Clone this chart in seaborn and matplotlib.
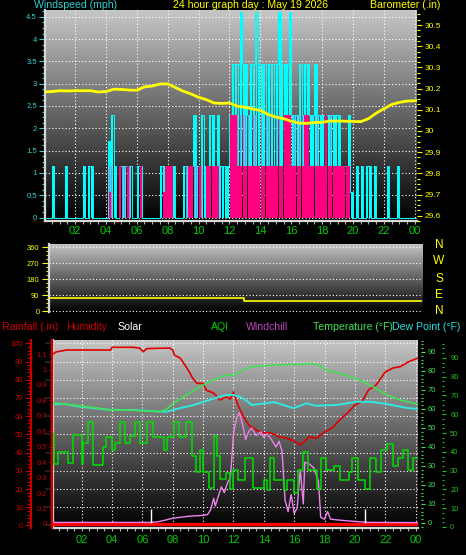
import numpy as np
import matplotlib
matplotlib.use("Agg")
import matplotlib.pyplot as plt
import matplotlib.colors as mcolors
from matplotlib.ticker import MultipleLocator, FuncFormatter
from matplotlib import font_manager as fm
import seaborn as sns

# ---------------- data ----------------
# wind, 10-minute bins over 24 h, values in knots (plotted in mph)
gust_kt = [
    0, 0, 0, 1, 0, 0,      # 00
    0, 0, 1, 0, 0, 0,      # 01
    0, 0, 0, 1, 0, 1,      # 02
    1, 0, 0, 0, 0, 0,      # 03
    0, 1.5, 2, 1, 0, 1,    # 04
    1, 1, 1, 1, 0, 0,      # 05
    1, 1, 0, 0, 0, 0,      # 06
    0, 0, 0, 1, 1, 1,      # 07
    1, 1, 1, 0, 0, 0,      # 08
    1, 1, 1, 1, 2, 1,      # 09
    1, 2, 1, 1, 2, 2,      # 10
    1, 2, 1, 1, 1, 1,      # 11
    2, 3, 3, 3, 4, 3,      # 12
    3, 2, 3, 3, 4, 3,      # 13
    3, 3, 2, 3, 3, 3,      # 14
    3, 4, 3, 3, 3, 4,      # 15
    2, 2, 2, 3, 2, 3,      # 16
    3, 2, 2, 3, 2, 2,      # 17
    2, 2, 2, 2, 2, 2,      # 18
    2, 1, 1, 1, 2, 0.5,    # 19
    0, 1, 0, 1, 0, 1,      # 20
    1, 0, 1, 0, 0, 0,      # 21
    0, 1, 0, 0, 0, 1,      # 22
    0, 0, 0, 0, 0, 0,      # 23
]
mid_kt = [
    0, 0, 0, 0, 0, 0,
    0, 0, 0, 0, 0, 0,
    0, 0, 0, 0, 0, 0,
    0, 0, 0, 0, 0, 0,
    0, 1, 1, 0, 0, 1,
    1, 1, 0, 1, 0, 0,
    0, 0, 0, 0, 0, 0,
    0, 0, 0, 0, 0, 0,
    0, 0, 0, 0, 0, 0,
    0, 1, 1, 1, 1, 1,
    1, 1, 0, 1, 1, 1,
    1, 1, 0, 0, 0, 0,
    2, 2, 2, 2, 2, 2,
    2, 2, 1, 2, 2, 1,
    2, 1, 2, 2, 1, 2,
    2, 2, 1, 2, 2, 2,
    2, 2, 1, 2, 2, 2,
    2, 2, 1, 1, 2, 1,
    1, 1, 1, 2, 1, 1,
    1, 1, 1, 1, 1, 0,
    0, 0, 0, 0, 0, 0,
    0, 0, 0, 0, 0, 0,
    0, 0, 0, 0, 0, 0,
    0, 0, 0, 0, 0, 0,
]
avg_kt = [
    0, 0, 0, 0, 0, 0,
    0, 0, 0, 0, 0, 0,
    0, 0, 0, 0, 0, 0,
    0, 0, 0, 0, 0, 0,
    0, 0.5, 0, 0, 0, 1,
    0, 0, 1, 0, 0, 0,
    0, 1, 0, 0, 0, 0,
    0, 0, 0, 0, 0.5, 1,
    1, 1, 0, 0, 0, 0,
    0, 0, 1, 1, 0, 0,
    1, 0, 0, 1, 1, 1,
    1, 1, 0, 0, 0, 0,
    2, 2, 2, 1, 1, 1,
    1, 1, 1, 1, 1, 1,
    1, 1, 1, 1, 1, 1,
    1, 1, 1, 2, 2, 2,
    1, 1, 1, 1, 1, 2,
    2, 1, 1, 1, 1, 1,
    1, 2, 1, 1, 1, 1,
    1, 1, 1, 1, 1, 0,
    0, 0, 0, 0, 0, 0,
    0, 0, 0, 0, 0, 0,
    0, 0, 0, 0, 0, 0,
    0, 0, 0, 0, 0, 0,
]
KT_TO_MPH = 1.1508

baro_hours = [0, 0.5, 1, 1.5, 2, 2.5, 3, 3.5, 4, 4.5, 5, 5.5, 6, 6.5, 7, 7.5, 8, 8.5,
              9, 9.5, 10, 10.5, 11, 11.5, 12, 12.5, 13, 13.5, 14, 14.5, 15, 15.5, 16,
              16.5, 17, 17.5, 18, 18.5, 19, 19.5, 20, 20.5, 21, 21.5, 22, 22.5, 23, 23.5, 24.1]
baro_in = [30.185, 30.186, 30.190, 30.189, 30.190, 30.190, 30.190, 30.184, 30.186, 30.197,
           30.196, 30.193, 30.192, 30.208, 30.212, 30.222, 30.222, 30.205, 30.188, 30.175,
           30.159, 30.148, 30.132, 30.130, 30.132, 30.117, 30.112, 30.104, 30.097, 30.078,
           30.066, 30.058, 30.046, 30.037, 30.036, 30.040, 30.041, 30.047, 30.047, 30.046,
           30.045, 30.044, 30.058, 30.084, 30.105, 30.125, 30.135, 30.141, 30.143]

wd_hours = [0, 12.55, 24]
wd_deg = [74, 56, 56]

hum_hours = [0.1, 0.3, 1.0, 3.9, 4.0, 5.4, 5.8, 6.06, 6.3, 7.8, 8.0, 8.1, 8.5, 8.8, 9.1, 9.3,
             9.6, 10.0, 10.2, 10.7, 11.1, 11.5, 11.8, 12.0, 12.3, 12.6, 13.0, 13.5, 14.0, 14.5,
             15.0, 15.5, 16.0, 16.4, 16.7, 17.0, 17.5, 18.0, 18.5, 19.0, 19.5, 20.0, 20.5,
             20.9, 21.4, 22.0, 22.5, 23.0, 23.5, 24.15]
hum_pct = [94.0, 95.2, 96.3, 96.3, 97.8, 97.8, 97.4, 95.4, 97.1, 97.4, 96.3, 93.6, 91.8, 88.1,
           84.2, 81.0, 78.0, 78.0, 74.4, 72.6, 68.9, 70.5, 69.4, 73.3, 66.1, 60.6, 55.2, 52.4,
           50.8, 50.8, 48.6, 48.0, 46.4, 44.2, 46.4, 48.6, 48.0, 51.3, 53.5, 57.9, 61.7, 66.1,
           68.3, 74.4, 77.1, 84.2, 86.4, 87.2, 89.7, 91.9]

temp_hours = [0.1, 1, 2, 3, 3.9, 5, 6, 7.16, 7.6, 8.05, 8.5, 8.9, 9.8, 10.65, 11.5, 12.0, 12.6,
              13.2, 14.1, 15.2, 16.4, 17.2, 17.7, 18.1, 19.2, 20.3, 21.2, 22.1, 23.0, 24.15]
temp_f = [63.3, 62.5, 61.5, 60.5, 59.5, 59.5, 59.0, 58.6, 60.0, 63.0, 65.2, 67.4, 71.7, 75.3,
          77.9, 77.5, 80.5, 82.3, 82.8, 83.3, 83.5, 83.9, 82.8, 80.5, 78.3, 75.3, 71.7, 67.4,
          64.7, 62.5]

dew_hours = [0.1, 0.9, 1.9, 3.9, 5.4, 7.2, 7.6, 8.5, 9.3, 10.2, 11.1, 11.6, 12.0, 12.4, 12.8,
             13.2, 14.1, 14.7, 15.3, 15.95, 16.8, 17.4, 18.8, 20.1, 21.1, 22.2, 23.3, 24.15]
dew_f = [62.6, 62.6, 61.2, 59.5, 59.5, 58.6, 58.6, 60.5, 61.9, 64.2, 66.5, 67.4, 67.4, 66.5,
         64.7, 62.1, 63.0, 63.6, 62.1, 60.4, 63.0, 61.7, 62.1, 63.8, 63.8, 62.5, 60.7, 60.0]

aqi_hours = [0.1, 0.2, 0.46, 1.1, 1.45, 2.0, 2.1, 2.4, 2.77, 3.4, 3.6, 3.97, 4.2, 4.5, 4.85,
             5.2, 5.5, 5.85, 6.3, 6.7, 7.4, 7.6, 8.05, 8.4, 8.9, 9.25, 9.5, 9.8, 10.0, 10.4,
             10.7, 10.9, 11.1, 11.5, 11.8, 12.0, 12.3, 12.75, 13.3, 14.0, 14.2, 14.4, 14.7,
             15.3, 15.5, 16.0, 16.25, 16.6, 16.9, 17.5, 17.8, 18.1, 18.6, 19.0, 19.6, 19.8,
             20.2, 20.7, 21.0, 21.4, 21.75, 22.1, 22.5, 22.85, 23.2, 23.5, 23.85, 24.15]
aqi_val = [47, 31, 37.5, 31.4, 46.3, 31, 42, 53, 30.5, 40, 45, 38.4, 42, 53, 42, 46, 53, 42,
           53, 45, 38.4, 45, 53, 45, 53, 35, 27, 38.4, 27, 18.3, 46, 35, 23, 26.5, 18, 28,
           22.6, 34, 18.2, 22.6, 17.4, 34, 22.6, 17.4, 22.6, 15.7, 28, 37.6, 28, 18, 34, 28,
           30, 22.6, 27, 34, 22.6, 18, 34, 27, 38.4, 41.6, 30, 34, 38.4, 28, 34, 34]

chill_hours = [0.1, 6.5, 7.0, 7.5, 8.0, 8.5, 9.0, 9.5, 10.0, 10.3, 10.5, 10.7, 10.8, 11.0,
               11.2, 11.4, 11.6, 11.8, 11.9, 12.0, 12.2, 12.4, 12.6, 12.8, 13.0, 13.2, 13.5,
               13.8, 14.0, 14.2, 14.5, 14.8, 15.0, 15.2, 15.4, 15.6, 15.8, 16.0, 16.2, 16.4,
               16.6, 16.7, 17.0, 17.3, 17.6, 17.75, 18.0, 18.2, 18.4, 19.0, 20.0, 21.0, 24.15]
chill_val = [0.3, 0.3, 0.6, 1.5, 2.5, 3.0, 3.5, 3.8, 4.0, 4.5, 7, 13, 9, 14, 19, 16, 21, 24, 35,
             47, 55, 58, 52, 44, 48, 50, 46, 48, 45, 47, 44, 40, 43, 38, 12, 6, 15, 5, 8, 28,
             10, 32, 31, 29, 22, 3, 2, 6, 2, 1.5, 0.8, 0.3, 0.2]

solar_hours = [6.55, 20.7]
solar_val = [7.4, 7.4]

rain_hours = [0.1, 24.15]
rain_in = [0.0, 0.0]

hour_ticks = [2, 4, 6, 8, 10, 12, 14, 16, 18, 20, 22, 24]
hour_labels = ["02", "04", "06", "08", "10", "12", "14", "16", "18", "20", "22", "00"]

# ---------------- style ----------------
sns.set_theme(style="dark", rc={"figure.facecolor": "black", "axes.facecolor": "black"})
avail = {f.name for f in fm.fontManager.ttflist}
NARROW = "Liberation Sans Narrow" if "Liberation Sans Narrow" in avail else "Liberation Sans"
XFS = 10 if NARROW == "Liberation Sans Narrow" else 8
plt.rcParams["font.family"] = ["Liberation Sans", "DejaVu Sans"]

W, H = 466, 555
PT = 0.72  # points per pixel at 100 dpi
fig = plt.figure(figsize=(W / 100, H / 100), dpi=100, facecolor="black")


def px_axes(l, t, r, b):
    return fig.add_axes([l / W, 1 - b / H, (r - l) / W, (b - t) / H])


BG = mcolors.LinearSegmentedColormap.from_list("bg", ["#000000", "#c6c6c6"])


def gradient(ax):
    ax.imshow(np.linspace(0, 1, 256).reshape(-1, 1), extent=(0, 1, 0, 1),
              transform=ax.transAxes, origin="lower", aspect="auto", cmap=BG,
              zorder=0, interpolation="bilinear")


def clear_spines(ax):
    for s in ax.spines.values():
        s.set_visible(False)


GRID = dict(color="white", linestyle=(0, (1, 2)), linewidth=0.8)
FMT = FuncFormatter(lambda v, _: f"{round(v, 2):g}")
CYAN_T = "#30d0d0"
YEL = "#ffff00"
GREEN_X = "#00cc00"
RED = "#d00000"
TGREEN = "#40e050"


def fig_text(x, y, s, color, size=7.6, ha="left", family=None):
    kw = {}
    if family:
        kw["family"] = family
    fig.text(x / W, 1 - y / H, s, color=color, fontsize=size, ha=ha, va="center", **kw)


def hour_axis(ax, pad):
    ax.set_xticks(hour_ticks)
    ax.set_xticklabels(hour_labels, family=NARROW, fontsize=XFS)
    ax.xaxis.set_minor_locator(MultipleLocator(0.5))
    ax.tick_params(axis="x", which="both", bottom=True, direction="out", length=3 * PT,
                   width=0.8, color="#b0b0b0", labelcolor=GREEN_X, pad=pad)


# ---------------- panel 1: wind / barometer ----------------
ax1 = px_axes(45, 10, 417, 221)
gradient(ax1)
edges = np.arange(len(gust_kt) + 1) / 6.0
centers = edges[:-1] + 1 / 12.0
gust = np.array(gust_kt) * KT_TO_MPH
mid = np.array(mid_kt) * KT_TO_MPH
avg = np.array(avg_kt) * KT_TO_MPH
ax1.bar(centers, gust, width=0.125, color="#00ffff", lw=0, zorder=3)
sns.lineplot(x=edges, y=np.append(gust, gust[-1]), ax=ax1, color="#00ffff", lw=0.7,
             drawstyle="steps-post", zorder=3)
ax1.bar(centers - 0.035, mid, width=0.06, color="#8c8ce6", lw=0, zorder=4)
ax1.bar(centers + 0.005, avg, width=0.15, color="#ff0080", lw=0, zorder=5)
ax1.set_xlim(0.06, 24.14)
ax1.set_ylim(-0.078, 4.652)
ax1.yaxis.set_major_locator(MultipleLocator(0.5))
ax1.yaxis.set_minor_locator(MultipleLocator(0.125))
ax1.yaxis.set_major_formatter(FMT)
ax1.tick_params(axis="y", which="both", left=True, direction="out", color=CYAN_T,
                labelcolor=CYAN_T, labelsize=5.6, pad=1.5, width=0.8)
ax1.tick_params(axis="y", which="major", length=6 * PT)
ax1.tick_params(axis="y", which="minor", length=3 * PT)
hour_axis(ax1, 1.5)
ax1.grid(True, which="major", **GRID)
ax1.set_axisbelow(True)
clear_spines(ax1)
for s in ("left", "bottom"):
    ax1.spines[s].set_visible(True)
    ax1.spines[s].set_color("#d8d8d8")
    ax1.spines[s].set_linewidth(1.6)
ax1.set_xlabel("")
ax1.set_ylabel("")

axb = ax1.twinx()
sns.lineplot(x=baro_hours, y=baro_in, ax=axb, color=YEL, lw=2.0)
axb.set_ylim(29.575, 30.571)
axb.yaxis.set_major_locator(MultipleLocator(0.1))
axb.yaxis.set_minor_locator(MultipleLocator(0.025))
axb.yaxis.set_major_formatter(FuncFormatter(lambda v, _: f"{round(v, 1):g}"))
axb.tick_params(axis="y", which="both", right=True, direction="out", color=YEL,
                labelcolor=YEL, labelsize=6, pad=2, width=0.8)
axb.tick_params(axis="y", which="major", length=5 * PT)
axb.tick_params(axis="y", which="minor", length=3 * PT)
clear_spines(axb)
axb.grid(False)
axb.set_ylabel("")

fig_text(34, 5.5, "Windspeed (mph)", CYAN_T)
fig_text(251, 5.5, "24 hour graph day : May 19 2026", YEL, ha="center")
fig_text(440, 5.5, "Barometer (.in)", YEL, ha="right")

# ---------------- panel 2: wind direction ----------------
ax2 = px_axes(48.5, 244, 422, 312.5)
gradient(ax2)
sns.lineplot(x=wd_hours, y=wd_deg, ax=ax2, color=YEL, lw=1.2, drawstyle="steps-post", zorder=5)
ax2.set_xlim(0, 24)
ax2.set_ylim(-6.75, 378.6)
ax2.yaxis.set_major_locator(MultipleLocator(90))
ax2.yaxis.set_minor_locator(MultipleLocator(22.5))
ax2.tick_params(axis="y", which="both", left=True, direction="out", color=YEL,
                labelcolor=YEL, labelsize=5.4, pad=1.5, width=0.8)
ax2.tick_params(axis="y", which="major", length=7 * PT)
ax2.tick_params(axis="y", which="minor", length=3 * PT)
ax2.set_xticks([])
ax2.grid(True, axis="y", which="major", **GRID)
ax2.grid(False, axis="x")
clear_spines(ax2)
ax2.spines["left"].set_visible(True)
ax2.spines["left"].set_color("#d8d8d8")
ax2.spines["left"].set_linewidth(1.6)
ax2.set_xlabel("")
ax2.set_ylabel("")
for letter, yy in zip(["N", "W", "S", "E", "N"], [245, 261, 278.5, 295, 311.3]):
    fig_text(439, yy, letter, YEL, size=8.6, ha="center")

# ---------------- panel 3: rain / humidity / temperatures ----------------
ax3 = px_axes(53, 340, 418, 527.5)
gradient(ax3)
HUM_LIM = (-1.1, 101.8)
sns.lineplot(x=hum_hours, y=hum_pct, ax=ax3, color="#e00000", lw=1.2, zorder=5)
ax3.set_xlim(0.11, 24.16)
ax3.set_ylim(*HUM_LIM)
ax3.yaxis.set_major_locator(MultipleLocator(10))
ax3.tick_params(axis="y", which="both", left=False, labelleft=False)
hour_axis(ax3, 3)
ax3.grid(True, which="major", **GRID)
ax3.set_axisbelow(True)
clear_spines(ax3)
for s in ("left", "bottom"):
    ax3.spines[s].set_visible(True)
    ax3.spines[s].set_color("#d8d8d8")
    ax3.spines[s].set_linewidth(1.6)
ax3.set_xlabel("")
ax3.set_ylabel("")


def side_axis(lim, side, offset_px, color, major, minor, fmt, lab_size=5.4, length_px=5,
              pad=1.2, spine=False):
    a = ax3.twinx()
    a.set_ylim(*lim)
    a.grid(False)
    clear_spines(a)
    if side == "left":
        a.yaxis.tick_left()
    else:
        a.yaxis.tick_right()
    sp = a.spines[side]
    sp.set_position(("outward", offset_px * PT))
    sp.set_visible(spine)
    sp.set_color(color)
    sp.set_linewidth(1.6)
    a.yaxis.set_major_locator(MultipleLocator(major))
    a.yaxis.set_minor_locator(MultipleLocator(minor))
    a.yaxis.set_major_formatter(fmt)
    a.tick_params(axis="y", which="both", direction="out", color=color, labelcolor=color,
                  labelsize=lab_size, pad=pad, width=0.8)
    a.tick_params(axis="y", which="major", length=length_px * PT)
    a.tick_params(axis="y", which="minor", length=max(2, length_px - 2) * PT)
    a.set_ylabel("")
    return a


ax_h = side_axis(HUM_LIM, "left", 22, "#c80000", 10, 2, FMT, length_px=6, spine=True)
ax_r = side_axis((-0.0227, 1.191), "left", 1.5, "#c80000", 0.1, 0.02,
                 FuncFormatter(lambda v, _: f"{round(v, 1):g}"), length_px=3, spine=True)
ax_t = side_axis((-2.37, 96.3), "right", 3, TGREEN, 10, 2, FMT, length_px=4, pad=2)
ax_d = side_axis((-0.27, 99.5), "right", 24, "#20c020", 10, 2.5, FMT, length_px=4, pad=3)

sns.lineplot(x=rain_hours, y=rain_in, ax=ax_r, color="#ff0000", lw=2.4)
sns.lineplot(x=chill_hours, y=chill_val, ax=ax_t, color="#ee82ee", lw=1.0)
ax_t.vlines(solar_hours, 0, solar_val, color="white", lw=1.0)
sns.lineplot(x=aqi_hours, y=aqi_val, ax=ax_t, color="#00dd00", lw=1.1, drawstyle="steps-post")
sns.lineplot(x=dew_hours, y=dew_f, ax=ax_t, color="#30e8e0", lw=1.4)
sns.lineplot(x=temp_hours, y=temp_f, ax=ax_t, color=TGREEN, lw=1.2)
for a in (ax_h, ax_r, ax_t, ax_d):
    a.set_xlim(0.11, 24.16)
    a.set_xlabel("")
    a.set_ylabel("")
ax_t.set_ylim(-2.37, 96.3)
ax_r.set_ylim(-0.0227, 1.191)

fig_text(1.5, 327, "Rainfall (.in)", RED)
fig_text(66.5, 327, "Humidity", RED)
fig_text(117, 327, "Solar", "white")
fig_text(211, 327, "AQI", GREEN_X)
fig_text(246, 327, "Windchill", "#c040c0")
fig_text(313, 327, "Temperature (°F)", TGREEN)
fig_text(392, 327, "Dew Point (°F)", "#20e0e0")

fig.savefig("out.png", dpi=100, facecolor="black")
